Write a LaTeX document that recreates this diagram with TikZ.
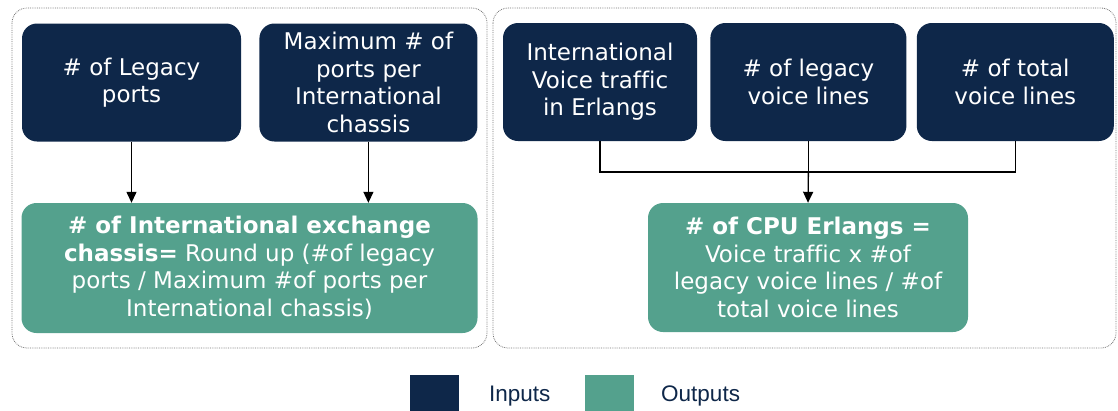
\documentclass[tikz,border=0pt]{standalone}
\usepackage{fontspec}
\setmainfont[Ligatures=NoCommon]{DejaVu Sans}
\newfontfamily\legfont{Liberation Sans}
\usepackage{tikz}
\usetikzlibrary{arrows.meta, positioning}
\definecolor{navy}{RGB}{14,39,73}
\definecolor{teal}{RGB}{84,161,141}
\tikzset{
  inp/.style ={rectangle, rounded corners=15pt, fill=navy, text=white, align=center, inner sep=0pt, minimum height=118pt, font=\fontsize{23}{27.5}\selectfont},
  outp/.style={rectangle, rounded corners=15pt, fill=teal, text=white, align=center, inner sep=0pt, font=\fontsize{23}{27.5}\selectfont},
  grp/.style ={draw=black!55, densely dotted, line width=0.8pt, rounded corners=15pt},
  ln/.style  ={line width=1.3pt},
  fl/.style  ={line width=1.3pt, -{Triangle[length=11pt, width=10pt]}},
  key/.style ={rectangle, inner sep=0pt, minimum width=49pt, minimum height=36pt},
  keytxt/.style={anchor=west, text=navy, inner sep=0pt, font=\legfont\fontsize{22.5}{26}\selectfont},
}
\begin{document}
\begin{tikzpicture}[x=1pt, y=-1pt]
  \useasboundingbox (0,0) rectangle (1118,410);
  % group frames
  \draw[grp] (12,8) rectangle (487,348);
  \draw[grp] (493,8) rectangle (1116,348);
  % left group
  \node[inp, minimum width=219pt] (legacy) at (131.5,82.5) {\# of Legacy\\ports};
  \node[inp, minimum width=218pt, right=18pt of legacy] (maxports) {Maximum \# of\\ports per\\International\\chassis};
  \node[outp, minimum width=456pt, minimum height=130pt] (chassis) at (249.5,268)
    {\textbf{\# of International exchange}\\\textbf{chassis=} Round up (\#of legacy\\ports / Maximum \#of ports per\\International chassis)};
  \draw[fl] (legacy.south) -- (legacy.south |- chassis.north);
  \draw[fl] (maxports.south) -- (maxports.south |- chassis.north);
  % right group
  \node[inp, minimum width=194pt] (traffic) at (600,82) {International\\Voice traffic\\in Erlangs};
  \node[inp, minimum width=196pt, right=13pt of traffic] (lvl) {\# of legacy\\voice lines};
  \node[inp, minimum width=197pt, right=10pt of lvl] (tvl) {\# of total\\voice lines};
  \node[outp, minimum width=320pt, minimum height=129pt] (cpu) at (808,267.5)
    {\textbf{\# of CPU Erlangs =}\\Voice traffic x \#of\\legacy voice lines / \#of\\total voice lines};
  \coordinate (jn) at (lvl.south |- 0,172);
  \draw[ln] (traffic.south) |- (jn);
  \draw[ln] (tvl.south) |- (jn);
  \draw[ln] (lvl.south) -- (jn);
  \draw[fl] (jn) -- (cpu.north);
  % legend
  \node[key, fill=navy] (kin) at (434.5,393) {};
  \node[keytxt] (tin) at (489,396) {Inputs};
  \node[key, fill=teal] (kout) at (609,393) {};
  \node[keytxt] (tout) at (661,396) {Outputs};
\end{tikzpicture}
\end{document}
